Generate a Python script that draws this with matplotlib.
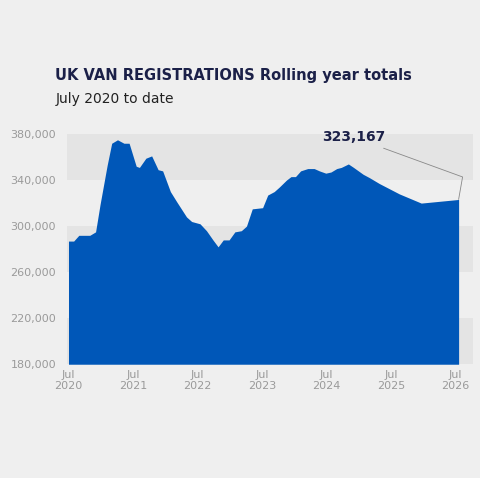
import matplotlib
matplotlib.use("Agg")
import matplotlib.pyplot as plt
import numpy as np

# decimal years, values
dates = [2020.50, 2020.58, 2020.66, 2020.83, 2020.92, 2020.99, 2021.10, 2021.17,
         2021.26, 2021.36, 2021.44, 2021.55, 2021.60, 2021.70, 2021.79, 2021.89,
         2021.96, 2022.08, 2022.18, 2022.33, 2022.41, 2022.54, 2022.64, 2022.74,
         2022.82, 2022.90, 2022.99, 2023.08, 2023.18, 2023.26, 2023.35, 2023.51,
         2023.59, 2023.69, 2023.77, 2023.88, 2023.95, 2024.02, 2024.10, 2024.21,
         2024.31, 2024.39, 2024.49, 2024.57, 2024.66, 2024.73, 2024.84, 2024.92,
         2025.07, 2025.17, 2025.32, 2025.63, 2025.97, 2026.55]
values = [287000, 287000, 292000, 292000, 295000, 319000, 353000, 372000,
          375000, 372000, 372000, 352000, 351000, 359000, 361000, 349000,
          348000, 330000, 321000, 308000, 304000, 302000, 296000, 288000,
          282000, 288000, 288000, 295000, 296000, 300000, 315000, 316000,
          327000, 330000, 334000, 340000, 343000, 343000, 348000, 350000,
          350000, 348000, 346000, 347000, 350000, 351000, 354000, 351000,
          345000, 342000, 337000, 328000, 320000, 323167]
tick_pos = [2020.5, 2021.5, 2022.5, 2023.5, 2024.5, 2025.5, 2026.5]
tick_labels = ["Jul\n2020", "Jul\n2021", "Jul\n2022", "Jul\n2023", "Jul\n2024", "Jul\n2025", "Jul\n2026"]
yticks = [180000, 220000, 260000, 300000, 340000, 380000]

bg = "#efefef"
navy = "#1b2048"
fig = plt.figure(figsize=(4.8, 4.78), dpi=100, facecolor=bg)
ax = fig.add_axes([0.14, 0.238, 0.845, 0.484], facecolor=bg)

for lo in (180000, 260000, 340000):
    ax.axhspan(lo, lo + 40000, color="#e4e4e4", zorder=0, lw=0)

ax.fill_between(dates, 180000, values, color="#0057b8", lw=0, zorder=2)
ax.set_xlim(2020.48, 2026.77)
ax.set_ylim(180000, 381000)
ax.set_yticks(yticks)
ax.set_yticklabels([f"{v:,}" for v in yticks])
ax.set_xticks(tick_pos)
ax.set_xticklabels(tick_labels)
ax.tick_params(length=0, labelsize=8, colors="#9a9a9a", pad=4)
ax.tick_params(axis="y", pad=8)
for s in ax.spines.values():
    s.set_visible(False)

ax.annotate("323,167", xy=(dates[-1], values[-1]), xytext=(2025.42, 377000),
            fontsize=10, fontweight="bold", color=navy, ha="right", va="center",
            arrowprops=dict(arrowstyle="-", color="#888888", lw=0.6,
                            connectionstyle="angle,angleA=-20,angleB=80,rad=0",
                            shrinkA=2, shrinkB=0))

fig.text(0.115, 0.843, "UK VAN REGISTRATIONS Rolling year totals", fontsize=10.5,
         fontweight="bold", color=navy, va="center")
fig.text(0.115, 0.792, "July 2020 to date", fontsize=10, color="#222222", va="center")

fig.savefig("out.png", dpi=100, facecolor=bg)
